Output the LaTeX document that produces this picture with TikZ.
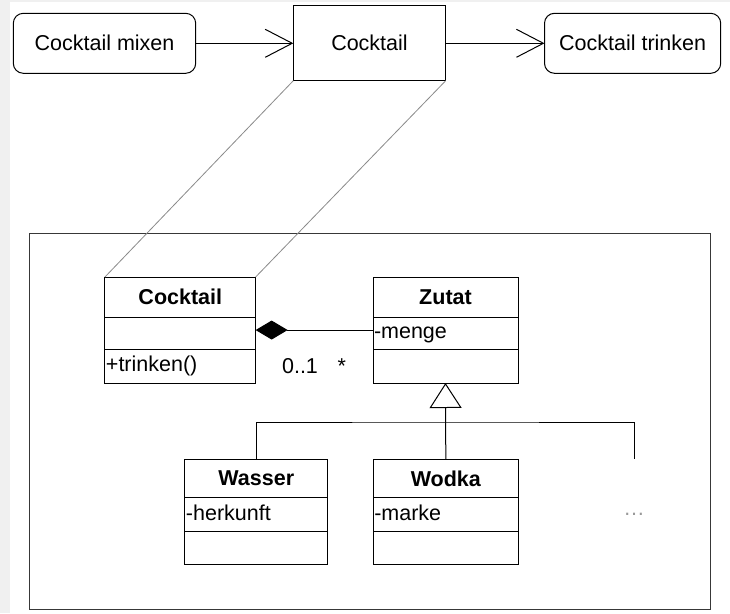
\documentclass[tikz,border=0pt]{standalone}
\usepackage{fontspec}
\setmainfont{Liberation Sans}
\usetikzlibrary{arrows.meta,positioning}
\definecolor{bggray}{HTML}{F0F0F0}
\definecolor{linkgray}{HTML}{8A8A8A}
\definecolor{framegray}{HTML}{383838}
\definecolor{dotgray}{HTML}{999999}
\begin{document}
\begin{tikzpicture}[x=1pt,y=-1pt,line width=1pt,
  every node/.style={outer sep=0pt},
  font=\fontsize{21.5}{25}\selectfont,
  statebox/.style={draw, rounded corners=10pt, inner sep=0pt, minimum height=60pt, text height=15pt, text depth=0pt},
  objbox/.style={draw, inner sep=0pt, text height=15pt, text depth=0pt},
  cname/.style={draw, inner sep=0pt, font=\fontsize{21.5}{25}\selectfont\bfseries},
  ccomp/.style={draw, inner xsep=1pt, inner ysep=0pt, align=left, text height=15pt, text depth=4pt},
  flow/.style={-{Straight Barb[length=27pt,width=28pt]}},
  trace/.style={draw=linkgray, line width=0.8pt},
  gen/.style={-{Triangle[open,length=25pt,width=32pt]}},
  comp/.style={{Diamond[length=32pt,width=19pt]}-}
]
\useasboundingbox (0,0) rectangle (730,613);
\fill[bggray] (0,0) rectangle (730,613);
\fill[white] (10,2) rectangle (730,613);

% top row
\node[statebox, minimum width=182.4pt] (st1) at (104.5,43.3) {Cocktail mixen};
\node[objbox, minimum width=152.4pt, minimum height=75.7pt] (cb) at (369.5,42.85) {Cocktail};
\node[statebox, minimum width=176.2pt] (st2) at (632.6,43.3) {Cocktail trinken};
\draw[flow] (st1.east) -- (st1.east -| cb.west);
\draw[flow] (st2.west -| cb.east) -- (st2.west);

% frame
\node[draw=framegray, minimum width=680.7pt, minimum height=375.7pt, inner sep=0pt] (frame) at (369.65,421.15) {};

% class Cocktail
\node[cname, minimum width=150.7pt, minimum height=40pt] (ck) at (180.3,297) {Cocktail};
\node[ccomp, text width=148.7pt, minimum height=32.5pt, below=0pt of ck] (ck-a) {};
\node[ccomp, text width=148.7pt, minimum height=33.5pt, below=0pt of ck-a] (ck-o) {+trinken()};

% class Zutat
\node[cname, minimum width=145pt, minimum height=40pt] (zu) at (445.5,297) {Zutat};
\node[ccomp, text width=143pt, minimum height=32.5pt, below=0pt of zu] (zu-a) {-menge};
\node[ccomp, text width=143pt, minimum height=33.5pt, below=0pt of zu-a] (zu-o) {};

% class Wasser
\node[cname, minimum width=142.7pt, minimum height=38.4pt] (wa) at (256.3,478.5) {Wasser};
\node[ccomp, text width=140.7pt, minimum height=34pt, below=0pt of wa] (wa-a) {-herkunft};
\node[ccomp, text width=140.7pt, minimum height=32.3pt, below=0pt of wa-a] (wa-o) {};

% class Wodka
\node[cname, minimum width=145pt, minimum height=38.4pt] (wo) at (445.8,478.5) {Wodka};
\node[ccomp, text width=143pt, minimum height=34pt, below=0pt of wo] (wo-a) {-marke};
\node[ccomp, text width=143pt, minimum height=32.3pt, below=0pt of wo-a] (wo-o) {};

% more
\node[text=dotgray] (more) at (634,514) {…};

% trace lines
\draw[trace] (cb.south west) -- (ck.north west);
\draw[trace] (cb.south east) -- (ck.north east);

% composition
\draw[comp] ([yshift=3.2pt]ck-a.east) -- ([yshift=3.2pt]zu-a.west);
\node[anchor=base] (m1) at (300,373) {0..1};
\node[anchor=base] (m2) at (341.7,373) {*};

% generalization
\coordinate (bar) at (445.8,422);
\coordinate (freeend) at (634,459.3);
\draw[gen] (wo.north) -- (zu-o.south);
\draw (wa.north) |- (bar) -| (freeend);
\end{tikzpicture}
\end{document}
